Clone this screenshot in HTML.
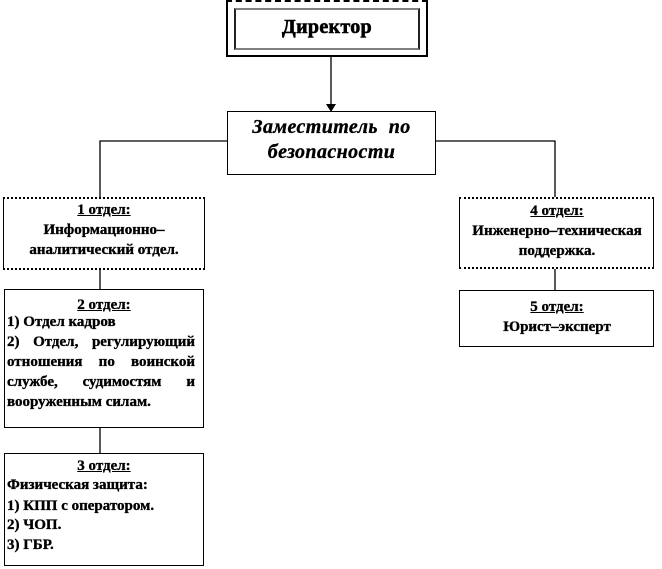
<!DOCTYPE html>
<html><head><meta charset="utf-8">
<style>
html,body{margin:0;padding:0;background:#fff;}
body{width:662px;height:569px;position:relative;overflow:hidden;font-family:"Liberation Serif","DejaVu Serif",serif;color:#000;}
.b{position:absolute;box-sizing:border-box;background:#fff;}
.t{position:absolute;left:0;right:0;font-weight:bold;font-size:15px;line-height:20px;white-space:nowrap;-webkit-text-stroke:0.35px #000;}
.c{text-align:center;}
.u{text-decoration:underline;}
.j{text-align:justify;text-align-last:justify;white-space:normal;}
.l{text-align:left;}
</style></head><body>
<svg width="662" height="569" style="position:absolute;left:0;top:0" xmlns="http://www.w3.org/2000/svg">
<g stroke="#000" stroke-width="1.3" fill="none">
<line x1="331" y1="56" x2="331" y2="105"/>
<polyline points="100,197 100,141 227,141"/>
<polyline points="435,141 555,141 555,197"/>
<line x1="100" y1="269" x2="100" y2="289"/>
<line x1="100" y1="427" x2="100" y2="453"/>
<line x1="555" y1="268" x2="555" y2="290"/>
</g>
<polygon points="326,104 336,104 331,112" fill="#000"/>
</svg>

<!-- Director -->
<div class="b" style="left:226px;top:0;width:202px;height:57px;border-left:2px solid #000;border-right:2px solid #000;border-bottom:2px solid #000;border-top:2px dashed #000;"></div>
<div class="b" style="left:234px;top:8px;width:186px;height:42px;border-top:2px solid #808080;border-bottom:2px solid #808080;border-left:2px solid #222;border-right:2px solid #222;">
</div>
<div class="t c" style="left:234px;width:186px;top:15px;font-size:20px;line-height:24px;letter-spacing:0.3px;-webkit-text-stroke:0.6px #000;">Директор</div>

<!-- Deputy -->
<div class="b" style="left:227px;top:111px;width:209px;height:64px;border:1.5px solid #000;"></div>
<div class="t c" style="left:227px;width:209px;top:115px;font-size:20px;line-height:25px;font-style:italic;font-weight:bold;letter-spacing:0.4px;">Заместитель&nbsp; по<br>безопасности</div>

<!-- 1 отдел -->
<div class="b" style="left:3px;top:197px;width:202px;height:73px;border-left:1px solid #000;border-right:1px solid #000;border-top:2px dotted #000;border-bottom:2px dotted #000;"></div>
<div class="t c" style="left:3px;width:202px;top:200px;"><span class="u">1 отдел:</span><br>Информационно–<br>аналитический отдел.</div>

<!-- 2 отдел -->
<div class="b" style="left:4px;top:289px;width:200px;height:139px;border:1px solid #000;"></div>
<div class="t c" style="left:4px;width:200px;top:295px;"><span class="u">2 отдел:</span></div>
<div class="t l" style="left:7px;width:188px;top:312px;">1) Отдел кадров</div>
<div class="t j" style="left:7px;width:188px;top:332px;">2) Отдел, регулирующий</div>
<div class="t j" style="left:7px;width:188px;top:352px;">отношения по воинской</div>
<div class="t j" style="left:7px;width:188px;top:372px;">службе, судимостям и</div>
<div class="t l" style="left:7px;width:188px;top:392px;">вооруженным силам.</div>

<!-- 3 отдел -->
<div class="b" style="left:4px;top:453px;width:200px;height:113px;border:1px solid #000;"></div>
<div class="t c" style="left:4px;width:200px;top:456px;"><span class="u">3 отдел:</span></div>
<div class="t l" style="left:7px;width:190px;top:475px;">Физическая защита:</div>
<div class="t l" style="left:7px;width:190px;top:496px;">1) КПП с оператором.</div>
<div class="t l" style="left:7px;width:190px;top:515px;">2) ЧОП.</div>
<div class="t l" style="left:7px;width:190px;top:535px;">3) ГБР.</div>

<!-- 4 отдел -->
<div class="b" style="left:459px;top:197px;width:195px;height:72px;border-left:1px solid #000;border-right:1px solid #000;border-top:2px dotted #000;border-bottom:2px dotted #000;"></div>
<div class="t c" style="left:459px;width:196px;top:201px;"><span class="u">4 отдел:</span><br>Инженерно–техническая<br>поддержка.</div>

<!-- 5 отдел -->
<div class="b" style="left:459px;top:290px;width:195px;height:57px;border:1px solid #000;"></div>
<div class="t c" style="left:459px;width:196px;top:297px;"><span class="u">5 отдел:</span><br>Юрист–эксперт</div>
</body></html>
